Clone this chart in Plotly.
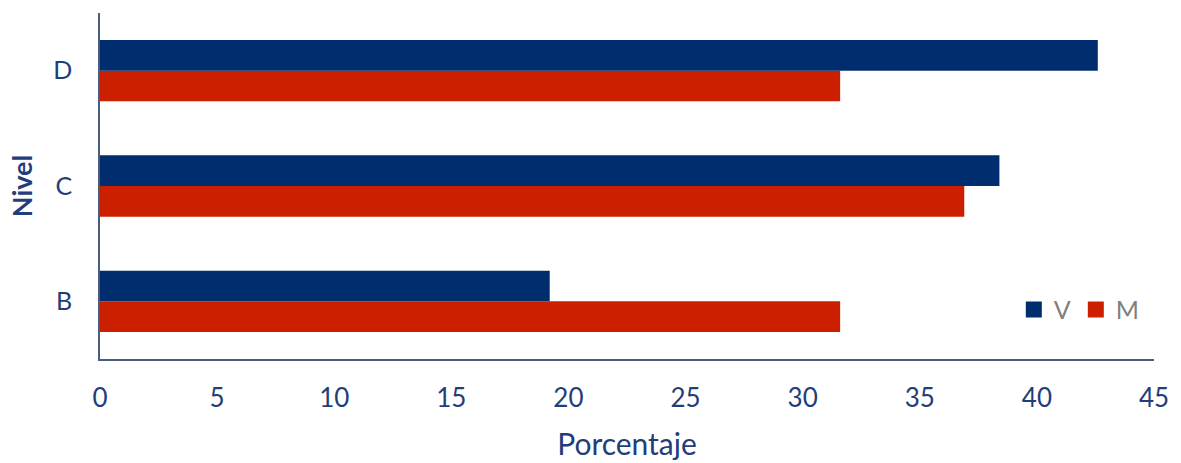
import plotly.graph_objects as go

# Porcentaje por nivel (V / M)
niveles = ["B", "C", "D"]
valores_v = [19.2, 38.4, 42.6]
valores_m = [31.6, 36.9, 31.6]
ticks_x = [0, 5, 10, 15, 20, 25, 30, 35, 40, 45]

AZUL = "#002d6e"
ROJO = "#cc1f00"
TEXTO = "#1f3e7a"
EJE = "#4a5c82"
FUENTE = "Lato"

fig = go.Figure()

# Trace order: M first so that V sits above M within each group
fig.add_trace(go.Bar(
    y=niveles, x=valores_m, orientation="h", name="M",
    marker=dict(color=ROJO, line=dict(width=0)), showlegend=False,
))
fig.add_trace(go.Bar(
    y=niveles, x=valores_v, orientation="h", name="V",
    marker=dict(color=AZUL, line=dict(width=0)), showlegend=False,
))

# Legend entries with larger square swatches
for nombre, color in (("V", AZUL), ("M", ROJO)):
    fig.add_trace(go.Scatter(
        x=[None], y=[None], mode="markers", name=nombre,
        marker=dict(symbol="square", size=18, color=color),
        showlegend=True,
    ))

fig.update_layout(
    width=1181, height=463,
    margin=dict(l=100, r=27, t=13, b=104),
    paper_bgcolor="white", plot_bgcolor="white",
    barmode="group", bargap=0.468, bargroupgap=0,
    font=dict(family=FUENTE, color=TEXTO, size=25),
    showlegend=True,
    legend=dict(
        orientation="h", x=0.867, y=0.142, xanchor="left", yanchor="middle",
        font=dict(family=FUENTE, color="#7f7f7f", size=25),
        bgcolor="rgba(0,0,0,0)", itemwidth=30, tracegroupgap=0,
    ),
    xaxis=dict(
        range=[0, 45], tickmode="array", tickvals=ticks_x,
        ticktext=[str(t) for t in ticks_x],
        showgrid=False, zeroline=False,
        showline=True, linecolor=EJE, linewidth=1.5,
        ticks="", ticklabelstandoff=15,
        tickfont=dict(family=FUENTE, color=TEXTO, size=26),
        title=dict(text="Porcentaje", standoff=22,
                   font=dict(family=FUENTE, color=TEXTO, size=30)),
        automargin=False, fixedrange=True,
    ),
    yaxis=dict(
        categoryorder="array", categoryarray=niveles,
        showgrid=False, zeroline=False,
        showline=True, linecolor=EJE, linewidth=1.5,
        ticks="", ticklabelstandoff=21,
        tickfont=dict(family=FUENTE, color=TEXTO, size=25),
        title=dict(text="<b>Nivel</b>", standoff=13,
                   font=dict(family=FUENTE, color=TEXTO, size=27)),
        automargin=False, fixedrange=True,
    ),
)

fig.write_html("out.html")
